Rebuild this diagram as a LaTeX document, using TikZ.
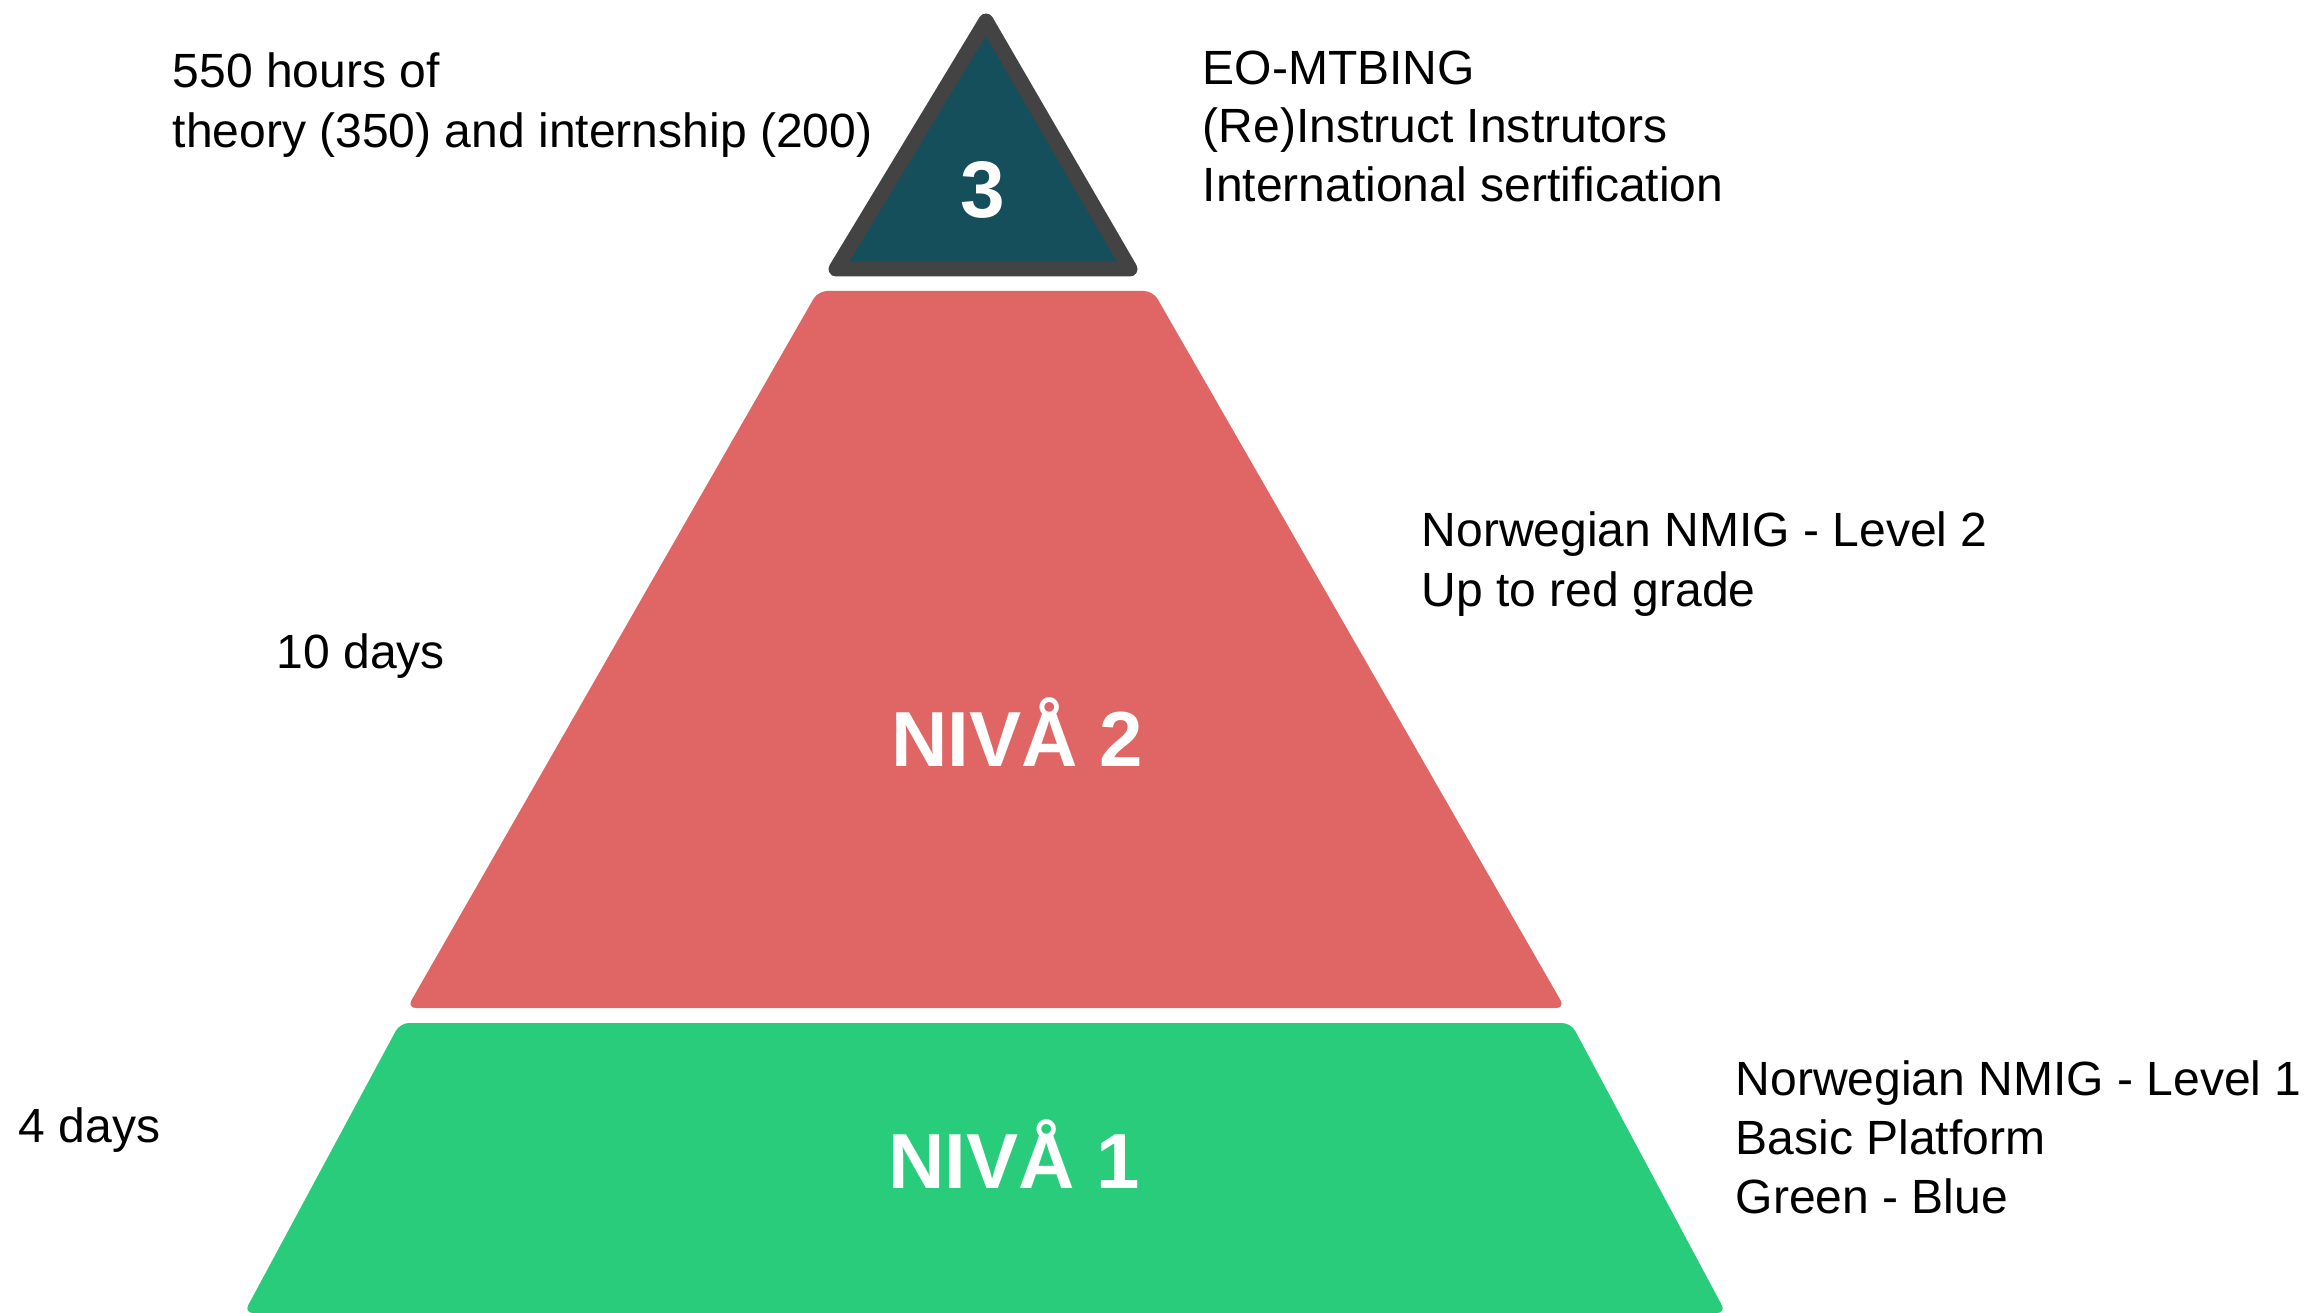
\documentclass[tikz,border=0pt]{standalone}
\usepackage{fontspec}
\setmainfont{Liberation Sans}
\definecolor{tealfill}{HTML}{164F5C}
\definecolor{darkedge}{HTML}{434343}
\definecolor{redlevel}{HTML}{E06666}
\definecolor{greenlevel}{HTML}{29CC7A}
\tikzset{
  lbl/.style={anchor=base west, inner sep=0pt, text=black, font=\fontsize{13.66pt}{16.8pt}\selectfont},
  big/.style={anchor=base, inner sep=0pt, text=white, font=\fontsize{22.2pt}{26pt}\selectfont\bfseries},
}
\begin{document}
\begin{tikzpicture}[x=0.01cm, y=-0.01cm]
\useasboundingbox (0,0) rectangle (2304,1313);
% level 3 triangle
\path[fill=tealfill, draw=darkedge, line width=0.15cm, line join=round]
  (986,21) -- (1130,269) -- (836,269) -- cycle;
% level 2 trapezoid
\path[fill=redlevel, rounded corners=0.09cm]
  (818,291) -- (1153,291) -- (1565,1008) -- (407,1008) -- cycle;
% level 1 trapezoid
\path[fill=greenlevel, rounded corners=0.09cm]
  (400,1023) -- (1571,1023) -- (1726,1313) -- (244,1313) -- cycle;
% big labels
\node[big, font=\fontsize{22.8pt}{26pt}\selectfont\bfseries] (n3) at (983,218) {3};
\node[big] (n2) at (1017,766) {NIVÅ 2};
\node[big] (n1) at (1014,1188) {NIVÅ 1};
% left texts
\node[lbl] (l3a) at (172,88) {550 hours of};
\node[lbl] (l3b) at (172,148) {theory (350) and internship (200)};
\node[lbl] (l2) at (276,668) {10 days};
\node[lbl] (l1) at (18,1142) {4 days};
% right texts
\node[lbl] (r3a) at (1202,85) {EO-MTBING};
\node[lbl] (r3b) at (1202,143) {(Re)Instruct Instrutors};
\node[lbl] (r3c) at (1202,202) {International sertification};
\node[lbl] (r2a) at (1421,547) {Norwegian NMIG - Level 2};
\node[lbl] (r2b) at (1421,606) {Up to red grade};
\node[lbl] (r1a) at (1735,1095) {Norwegian NMIG - Level 1};
\node[lbl] (r1b) at (1735,1154) {Basic Platform};
\node[lbl] (r1c) at (1735,1213) {Green - Blue};
\end{tikzpicture}
\end{document}
